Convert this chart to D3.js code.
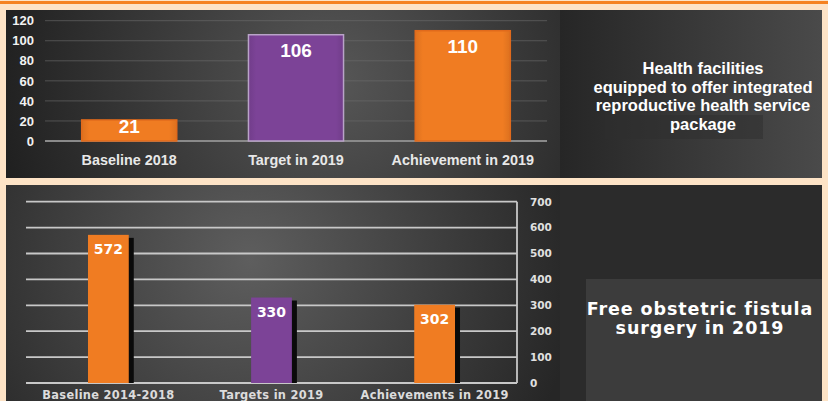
<!DOCTYPE html>
<html>
<head>
<meta charset="utf-8">
<script src="https://cdn.jsdelivr.net/npm/d3@7"></script>
<style>
  body { margin: 0; background: #fde3c6; }
  svg { display: block; }
</style>
</head>
<body>
<svg id="chart" width="828" height="401"></svg>
<script>
// top chart data
var topCategories = ["Baseline 2018", "Target in 2019", "Achievement in 2019"];
var topValues = [21, 106, 110];
var topTicks = [0, 20, 40, 60, 80, 100, 120];
var topTitle = ["Health facilities", "equipped to offer integrated", "reproductive health service", "package"];

// bottom chart data
var botCategories = ["Baseline 2014-2018", "Targets in 2019", "Achievements in 2019"];
var botValues = [572, 330, 302];
var botTicks = [0, 100, 200, 300, 400, 500, 600, 700];
var botTitle = ["Free obstetric fistula", "surgery in 2019"];

var ORANGE = "#f07c22", PURPLE = "#7c4397";

var svg = d3.select("#chart");
var defs = svg.append("defs");

// background gradients
var g1 = defs.append("radialGradient").attr("id", "bgTop")
  .attr("gradientUnits", "userSpaceOnUse")
  .attr("cx", 330).attr("cy", 80).attr("r", 360);
g1.append("stop").attr("offset", "0%").attr("stop-color", "#575757");
g1.append("stop").attr("offset", "100%").attr("stop-color", "#1c1c1c");

var g2 = defs.append("radialGradient").attr("id", "bgBot")
  .attr("gradientUnits", "userSpaceOnUse")
  .attr("cx", 250).attr("cy", 260).attr("r", 330);
g2.append("stop").attr("offset", "0%").attr("stop-color", "#5e5e5e");
g2.append("stop").attr("offset", "100%").attr("stop-color", "#262626");

var lg = defs.append("linearGradient").attr("id", "rightFade")
  .attr("x1", "0").attr("x2", "1").attr("y1", "0").attr("y2", "0");
lg.append("stop").attr("offset", "0%").attr("stop-color", "#262626");
lg.append("stop").attr("offset", "100%").attr("stop-color", "#4a4a4a");

// bar bevel gradients
function bevel(id, c) {
  var g = defs.append("linearGradient").attr("id", id)
    .attr("x1", "0").attr("x2", "1").attr("y1", "0").attr("y2", "0");
  g.append("stop").attr("offset", "0%").attr("stop-color", d3.color(c).darker(0.25));
  g.append("stop").attr("offset", "8%").attr("stop-color", c);
  g.append("stop").attr("offset", "92%").attr("stop-color", c);
  g.append("stop").attr("offset", "100%").attr("stop-color", d3.color(c).darker(0.25));
}
bevel("bvO", ORANGE);
bevel("bvP", PURPLE);

// orange top rule
svg.append("rect").attr("x", 0).attr("y", 1).attr("width", 828).attr("height", 3).attr("fill", "#f58220");

// panels
svg.append("rect").attr("x", 6).attr("y", 10).attr("width", 816).attr("height", 168).attr("fill", "url(#bgTop)");
svg.append("rect").attr("x", 560).attr("y", 10).attr("width", 262).attr("height", 168).attr("fill", "url(#rightFade)");
svg.append("rect").attr("x", 605).attr("y", 115).attr("width", 158).attr("height", 24).attr("fill", "#2e2e2e").attr("opacity", 0.5);
svg.append("rect").attr("x", 6).attr("y", 185).attr("width", 816).attr("height", 216).attr("fill", "url(#bgBot)");
svg.append("rect").attr("x", 560).attr("y", 185).attr("width", 262).attr("height", 216).attr("fill", "#2b2b2b");
svg.append("rect").attr("x", 586).attr("y", 279).attr("width", 236).attr("height", 122).attr("fill", "#3c3c3c");

// ---------- top chart ----------
var xTop = d3.scaleBand().domain(topCategories).range([45, 547]).paddingInner(0.43).paddingOuter(0.22);
var yTop = d3.scaleLinear().domain([0, 120]).range([141, 20.7]);
var colTop = d3.scaleOrdinal().domain(topCategories).range(["url(#bvO)", "url(#bvP)", "url(#bvO)"]);

var topG = svg.append("g");

topG.append("g").selectAll("line").data(topTicks.slice(1)).enter().append("line")
  .attr("x1", 45).attr("x2", 547)
  .attr("y1", function(d) { return yTop(d); }).attr("y2", function(d) { return yTop(d); })
  .attr("stroke", "#6e6e6e").attr("stroke-width", 1).attr("opacity", 0.6);

var yAxisTop = topG.append("g").attr("transform", "translate(34,0)")
  .call(d3.axisLeft(yTop).tickValues(topTicks).tickSize(0).tickPadding(0));
yAxisTop.select(".domain").remove();
yAxisTop.selectAll("text").attr("fill", "#f2f2f2").style("font", "bold 13px 'Liberation Sans', Arial, sans-serif");

topG.append("line").attr("x1", 45).attr("x2", 547).attr("y1", 141).attr("y2", 141)
  .attr("stroke", "#8a8a8a").attr("stroke-width", 2);

topG.selectAll(".tb").data(topValues).enter().append("rect")
  .attr("x", function(d, i) { return xTop(topCategories[i]); })
  .attr("y", function(d) { return yTop(d); })
  .attr("width", xTop.bandwidth())
  .attr("height", function(d) { return yTop(0) - yTop(d); })
  .attr("fill", function(d, i) { return colTop(topCategories[i]); })
  .attr("stroke", function(d, i) { return i === 1 ? "#b9a3c8" : "#e06a1c"; })
  .attr("stroke-width", 1.5);

topG.selectAll(".tl").data(topValues).enter().append("text")
  .attr("x", function(d, i) { return xTop(topCategories[i]) + xTop.bandwidth() / 2; })
  .attr("y", function(d) { return Math.min(yTop(d) + 22, 133); })
  .attr("text-anchor", "middle")
  .attr("fill", "#fff")
  .style("font", "bold 19px 'Liberation Sans', Arial, sans-serif")
  .text(function(d) { return d; });

topG.selectAll(".tx").data(topCategories).enter().append("text")
  .attr("x", function(d) { return xTop(d) + xTop.bandwidth() / 2; })
  .attr("y", 165)
  .attr("text-anchor", "middle")
  .attr("fill", "#e8e8e8")
  .style("font", "bold 14.4px 'Liberation Sans', Arial, sans-serif")
  .text(function(d) { return d; });

topG.selectAll(".tt").data(topTitle).enter().append("text")
  .attr("x", 703)
  .attr("y", function(d, i) { return 74 + i * 18.5; })
  .attr("text-anchor", "middle")
  .attr("fill", "#fff")
  .style("font", "bold 16.5px 'Liberation Sans', Arial, sans-serif")
  .text(function(d) { return d; });

// ---------- bottom chart ----------
var xBot = d3.scaleBand().domain(botCategories).range([26, 517]).paddingInner(0.75).paddingOuter(0.38);
var yBot = d3.scaleLinear().domain([0, 700]).range([383, 201.7]);
var colBot = d3.scaleOrdinal().domain(botCategories).range([ORANGE, PURPLE, ORANGE]);

var botG = svg.append("g");

botG.append("g").selectAll("line").data(botTicks).enter().append("line")
  .attr("x1", 26).attr("x2", 517)
  .attr("y1", function(d) { return yBot(d); }).attr("y2", function(d) { return yBot(d); })
  .attr("stroke", "#c8c8c8").attr("stroke-width", 1.8);

botG.append("line").attr("x1", 517).attr("x2", 517).attr("y1", yBot(700)).attr("y2", yBot(0))
  .attr("stroke", "#c8c8c8").attr("stroke-width", 1.8);

var yAxisBot = botG.append("g").attr("transform", "translate(530,0)")
  .call(d3.axisRight(yBot).tickValues(botTicks).tickSize(0).tickPadding(0));
yAxisBot.select(".domain").remove();
yAxisBot.selectAll("text").attr("fill", "#e0e0e0")
  .style("font", "bold 10.5px 'DejaVu Sans', Verdana, sans-serif");

// shadows
botG.selectAll(".bs").data(botValues).enter().append("rect")
  .attr("x", function(d, i) { return xBot(botCategories[i]) + 3; })
  .attr("y", function(d) { return yBot(d) + 3; })
  .attr("width", xBot.bandwidth() + 2)
  .attr("height", function(d) { return yBot(0) - yBot(d) - 3; })
  .attr("fill", "#0a0a0a");

botG.selectAll(".bb").data(botValues).enter().append("rect")
  .attr("x", function(d, i) { return xBot(botCategories[i]); })
  .attr("y", function(d) { return yBot(d); })
  .attr("width", xBot.bandwidth())
  .attr("height", function(d) { return yBot(0) - yBot(d); })
  .attr("fill", function(d, i) { return colBot(botCategories[i]); });

botG.selectAll(".bl").data(botValues).enter().append("text")
  .attr("x", function(d, i) { return xBot(botCategories[i]) + xBot.bandwidth() / 2; })
  .attr("y", function(d) { return yBot(d) + 19; })
  .attr("text-anchor", "middle")
  .attr("fill", "#fff")
  .style("font", "bold 14px 'DejaVu Sans', Verdana, sans-serif")
  .text(function(d) { return d; });

botG.selectAll(".bx").data(botCategories).enter().append("text")
  .attr("x", function(d) { return xBot(d) + xBot.bandwidth() / 2; })
  .attr("y", 399)
  .attr("text-anchor", "middle")
  .attr("fill", "#dcdcdc")
  .style("font", "bold 11.4px 'DejaVu Sans', Verdana, sans-serif")
  .style("letter-spacing", "0.3px")
  .text(function(d) { return d; });

botG.selectAll(".bt").data(botTitle).enter().append("text")
  .attr("x", 700)
  .attr("y", function(d, i) { return 315 + i * 19; })
  .attr("text-anchor", "middle")
  .attr("fill", "#fff")
  .style("font", "bold 17.5px 'DejaVu Sans', Verdana, sans-serif")
  .style("letter-spacing", "0.9px")
  .text(function(d) { return d; });
</script>
</body>
</html>
